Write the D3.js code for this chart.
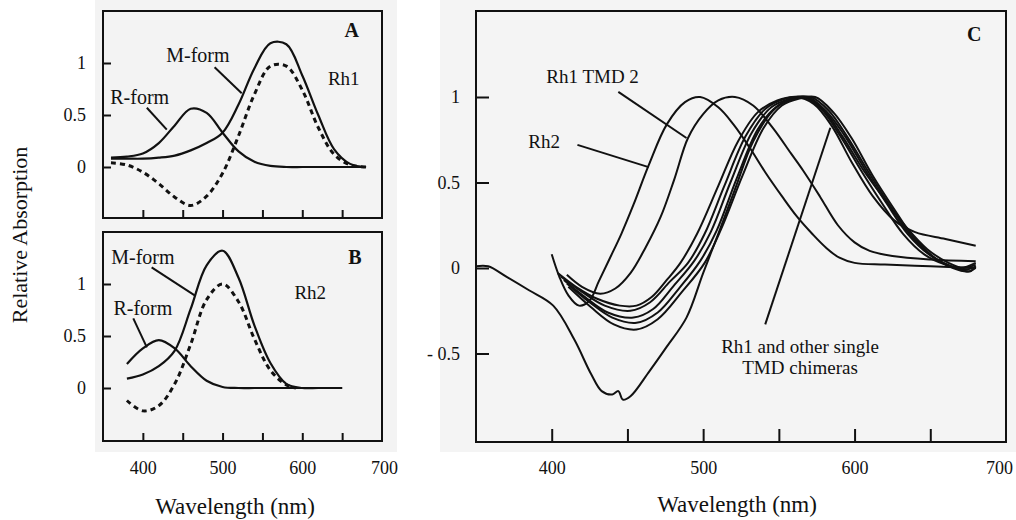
<!DOCTYPE html>
<html>
<head>
<meta charset="utf-8">
<script src="https://cdnjs.cloudflare.com/ajax/libs/d3/7.8.5/d3.min.js"></script>
<style>
  body { margin: 0; background: #fff; }
  svg { display: block; font-family: "Liberation Serif", "Times New Roman", serif; }
</style>
</head>
<body>
<script>
// ---- data ----
// shared wavelength ticks / labels
const xTicks = [400, 450, 500, 550, 600, 650];
const xLabels = [400, 500, 600, 700];
const yTicksAB = [0, 0.5, 1];
const yLabelsAB = ["0", "0.5", "1"];
const yTicksC = [-0.5, 0, 0.5, 1];
const yLabelsC = ["- 0.5", "0", "0.5", "1"];

// panel A (Rh1)
const wlA = [360, 380, 400, 420, 440, 460, 480, 500, 520, 540, 560, 580, 600, 620, 640, 660, 680];
const rFormA = [0.09, 0.10, 0.13, 0.23, 0.40, 0.56, 0.52, 0.33, 0.15, 0.05, 0.01, 0, 0, 0, 0, 0, 0];
const mFormA = [0.08, 0.08, 0.08, 0.09, 0.11, 0.16, 0.23, 0.33, 0.60, 0.95, 1.19, 1.18, 0.88, 0.50, 0.17, 0.03, 0];
const diffA = [0.04, 0.02, -0.05, -0.16, -0.29, -0.37, -0.28, -0.06, 0.30, 0.70, 0.97, 0.97, 0.74, 0.38, 0.12, 0.02, 0];

// panel B (Rh2)
const wlB = [380, 400, 420, 440, 460, 480, 500, 520, 540, 560, 580, 600, 620, 650];
const rFormB = [0.23, 0.38, 0.46, 0.38, 0.21, 0.07, 0.01, 0, 0, 0, 0, 0, 0, 0];
const mFormB = [0.09, 0.13, 0.21, 0.36, 0.76, 1.18, 1.32, 1.06, 0.60, 0.24, 0.04, 0, 0, 0];
const wlDiffB = [380, 400, 420, 440, 460, 480, 500, 520, 540, 560, 580, 592];
const diffB = [-0.12, -0.22, -0.17, 0.04, 0.42, 0.85, 1.0, 0.83, 0.47, 0.17, 0.03, 0];

// panel C: [wavelength, relative absorption]
const rh2C = [[400,0.08],[405,-0.05],[411,-0.16],[418,-0.22],[425,-0.19],[431,-0.08],[438,0.05],[446,0.2],[454,0.37],[464,0.6],[476,0.84],[488,0.97],[498,1.0],[510,0.94],[520,0.84],[531,0.7],[541,0.56],[552,0.42],[562,0.3],[572,0.2],[581,0.12],[590,0.06],[600,0.03],[620,0.02],[650,0.01],[680,0.0]];
const tmd2C = [[410,-0.04],[420,-0.11],[432,-0.15],[442,-0.12],[452,-0.03],[462,0.12],[472,0.3],[481,0.52],[490,0.76],[500,0.9],[510,0.98],[521,1.0],[533,0.95],[546,0.82],[558,0.67],[566,0.57],[577,0.42],[589,0.25],[600,0.15],[610,0.1],[625,0.07],[650,0.05],[680,0.04]];
const rh1C = [[350,0.01],[358,0.01],[370,-0.05],[385,-0.13],[401,-0.22],[415,-0.42],[426,-0.62],[433,-0.72],[440,-0.74],[444,-0.72],[447,-0.77],[452,-0.75],[464,-0.61],[476,-0.46],[489,-0.29],[500,-0.03],[510,0.2],[521,0.46],[533,0.74],[546,0.92],[558,0.99],[568,1.0],[580,0.92],[592,0.77],[606,0.57],[620,0.4],[634,0.24],[648,0.11],[662,0.03],[672,0.0],[680,0.02]];
const chim1C = [[404,-0.03],[416,-0.11],[430,-0.18],[445,-0.22],[456,-0.22],[466,-0.17],[476,-0.07],[485,0.03],[496,0.2],[510,0.48],[523,0.74],[536,0.91],[549,0.98],[561,1.0],[573,0.96],[585,0.83],[598,0.62],[612,0.42],[626,0.28],[640,0.21],[660,0.17],[680,0.13]];
const chim2C = [[406,-0.05],[420,-0.14],[435,-0.22],[452,-0.25],[465,-0.2],[478,-0.08],[490,0.03],[501,0.2],[514,0.48],[528,0.77],[541,0.93],[554,0.99],[566,1.0],[578,0.93],[590,0.78],[605,0.56],[618,0.38],[632,0.2],[646,0.08],[660,0.02],[670,0.0],[680,0.03]];
const chim3C = [[408,-0.07],[422,-0.17],[437,-0.26],[454,-0.29],[467,-0.24],[480,-0.11],[494,0.04],[505,0.21],[518,0.5],[532,0.79],[545,0.94],[558,0.99],[569,1.0],[581,0.92],[593,0.78],[608,0.56],[621,0.38],[635,0.2],[649,0.08],[663,0.01],[673,-0.01],[680,0.01]];
const chim4C = [[410,-0.09],[425,-0.2],[440,-0.29],[456,-0.32],[470,-0.26],[484,-0.12],[498,0.04],[509,0.22],[522,0.52],[536,0.81],[548,0.94],[560,0.99],[571,1.0],[583,0.92],[595,0.77],[610,0.55],[623,0.37],[637,0.19],[651,0.07],[665,0.0],[675,-0.02],[680,0.0]];
const chim5C = [[411,-0.11],[426,-0.23],[441,-0.33],[456,-0.36],[470,-0.3],[486,-0.14],[501,0.03],[512,0.23],[526,0.54],[540,0.82],[552,0.95],[563,0.99],[574,1.0],[586,0.91],[598,0.76],[612,0.54],[625,0.36],[639,0.18],[653,0.06],[667,0.0],[676,-0.02],[680,0.01]];

const ink = "#111";

let svg = null;
let panelA, panelB, panelC;

setupSvg();
setupPanels();
drawPanel(panelA);
drawPanel(panelB);
drawPanel(panelC);
drawCurvesAB(panelA, d3.zip(wlA, rFormA), d3.zip(wlA, mFormA), d3.zip(wlA, diffA));
drawCurvesAB(panelB, d3.zip(wlB, rFormB), d3.zip(wlB, mFormB), d3.zip(wlDiffB, diffB));
drawCurvesC();
drawAnnotations();
drawAxisTitles();

function setupSvg() {
  svg = d3.select("body").append("svg")
    .attr("width", 1016)
    .attr("height", 520);

  // scanned paper tone behind the panels
  svg.append("rect").attr("x", 95).attr("y", 0).attr("width", 302).attr("height", 452).attr("fill", "#f3f3f3");
  svg.append("rect").attr("x", 440).attr("y", 0).attr("width", 576).attr("height", 452).attr("fill", "#f4f4f4");
}

function setupPanels() {
  const xAB = d3.scaleLinear().domain([350, 700]).range([103, 382]);
  panelA = { x: xAB, y: d3.scaleLinear().domain([0, 1]).range([167, 63]),
             top: 11, bottom: 218, tick: 8, xPad: 20, yPad: 17, lastDx: 2,
             yTicks: yTicksAB, yLabels: yLabelsAB, showX: false };
  panelB = { x: xAB, y: d3.scaleLinear().domain([0, 1]).range([388, 284]),
             top: 232, bottom: 441, tick: 8, xPad: 20, yPad: 17, lastDx: 2,
             yTicks: yTicksAB, yLabels: yLabelsAB, showX: true };
  panelC = { x: d3.scaleLinear().domain([350, 700]).range([476, 1006]),
             y: d3.scaleLinear().domain([0, 1]).range([268, 97]),
             top: 11, bottom: 442, tick: 13, xPad: 19, yPad: 16, lastDx: -7,
             yTicks: yTicksC, yLabels: yLabelsC, showX: true };
}

function cleanAxis(g) {
  g.select(".domain").remove();
  g.attr("font-family", null).attr("font-size", null).attr("color", ink);
  g.selectAll("line").attr("stroke-width", 2);
  g.selectAll("text").attr("font-size", 18);
}

function drawPanel(p) {
  const [x0, x1] = p.x.range();

  svg.append("rect")
    .attr("x", x0).attr("y", p.top)
    .attr("width", x1 - x0).attr("height", p.bottom - p.top)
    .attr("fill", "none").attr("stroke", ink).attr("stroke-width", 2);

  // inward tick marks on the bottom edge
  svg.append("g")
    .attr("transform", `translate(0,${p.bottom})`)
    .call(d3.axisBottom(p.x).tickValues(xTicks).tickSize(-p.tick).tickFormat(""))
    .call(cleanAxis);

  if (p.showX) {
    svg.append("g")
      .attr("transform", `translate(0,${p.bottom})`)
      .call(d3.axisBottom(p.x).tickValues(xLabels).tickSize(0).tickPadding(p.xPad))
      .call(cleanAxis)
      .call(g => g.selectAll("line").remove())
      .call(g => g.selectAll("text").filter(d => d === 700).attr("dx", p.lastDx));
  }

  svg.append("g")
    .attr("transform", `translate(${x0},0)`)
    .call(d3.axisLeft(p.y).tickValues(p.yTicks).tickSize(-p.tick).tickPadding(p.yPad)
      .tickFormat((d, i) => p.yLabels[i]))
    .call(cleanAxis);
}

function lineFor(p) {
  return d3.line()
    .x(d => p.x(d[0]))
    .y(d => p.y(d[1]))
    .curve(d3.curveCatmullRom.alpha(0.5));
}

function drawCurvesAB(p, rForm, mForm, diff) {
  const line = lineFor(p);
  svg.append("path").datum(rForm).attr("d", line)
    .attr("fill", "none").attr("stroke", ink).attr("stroke-width", 2.2);
  svg.append("path").datum(mForm).attr("d", line)
    .attr("fill", "none").attr("stroke", ink).attr("stroke-width", 2.2);
  svg.append("path").datum(diff).attr("d", line)
    .attr("fill", "none").attr("stroke", ink).attr("stroke-width", 3)
    .attr("stroke-dasharray", "5,4");
}

function drawCurvesC() {
  const line = lineFor(panelC);
  const series = [rh1C, chim1C, chim2C, chim3C, chim4C, chim5C, tmd2C, rh2C];
  svg.append("g").selectAll("path")
    .data(series)
    .join("path")
    .attr("d", line)
    .attr("fill", "none")
    .attr("stroke", ink)
    .attr("stroke-width", 2)
    .attr("stroke-linejoin", "round");
}

function label(p, wl, v, text, opts = {}) {
  svg.append("text")
    .attr("x", p.x(wl)).attr("y", p.y(v))
    .attr("text-anchor", opts.anchor || "middle")
    .attr("dominant-baseline", "central")
    .attr("font-size", opts.size || 19)
    .attr("font-weight", opts.bold ? "bold" : null)
    .attr("fill", ink)
    .text(text);
}

function pointer(p, a, b) {
  svg.append("line")
    .attr("x1", p.x(a[0])).attr("y1", p.y(a[1]))
    .attr("x2", p.x(b[0])).attr("y2", p.y(b[1]))
    .attr("stroke", ink).attr("stroke-width", 2);
}

function drawAnnotations() {
  // A
  label(panelA, 662, 1.32, "A", { bold: true, size: 20 });
  label(panelA, 652, 0.85, "Rh1", { size: 19 });
  label(panelA, 469, 1.08, "M-form", { size: 20 });
  label(panelA, 396, 0.67, "R-form", { size: 20 });
  pointer(panelA, [490, 0.96], [524, 0.71]);
  pointer(panelA, [405, 0.57], [430, 0.36]);

  // B
  label(panelB, 666, 1.26, "B", { bold: true, size: 20 });
  label(panelB, 610, 0.92, "Rh2", { size: 19 });
  label(panelB, 400, 1.26, "M-form", { size: 20 });
  label(panelB, 400, 0.77, "R-form", { size: 20 });
  pointer(panelB, [411, 1.16], [465, 0.89]);
  pointer(panelB, [388, 0.67], [405, 0.39]);

  // C
  label(panelC, 679, 1.37, "C", { bold: true, size: 20 });
  label(panelC, 427, 1.12, "Rh1 TMD 2");
  label(panelC, 395, 0.74, "Rh2");
  label(panelC, 564, -0.46, "Rh1 and other single");
  label(panelC, 564, -0.58, "TMD chimeras");
  pointer(panelC, [444, 1.03], [489, 0.76]);
  pointer(panelC, [417, 0.72], [464, 0.59]);
  pointer(panelC, [541, -0.33], [584, 0.82]);
}

function drawAxisTitles() {
  svg.append("text")
    .attr("x", 235).attr("y", 514)
    .attr("text-anchor", "middle").attr("font-size", 23).attr("fill", ink)
    .text("Wavelength (nm)");
  svg.append("text")
    .attr("x", 737).attr("y", 512)
    .attr("text-anchor", "middle").attr("font-size", 23).attr("fill", ink)
    .text("Wavelength (nm)");
  svg.append("text")
    .attr("transform", "translate(27,235) rotate(-90)")
    .attr("text-anchor", "middle").attr("font-size", 22).attr("fill", ink)
    .text("Relative Absorption");
}
</script>
</body>
</html>
